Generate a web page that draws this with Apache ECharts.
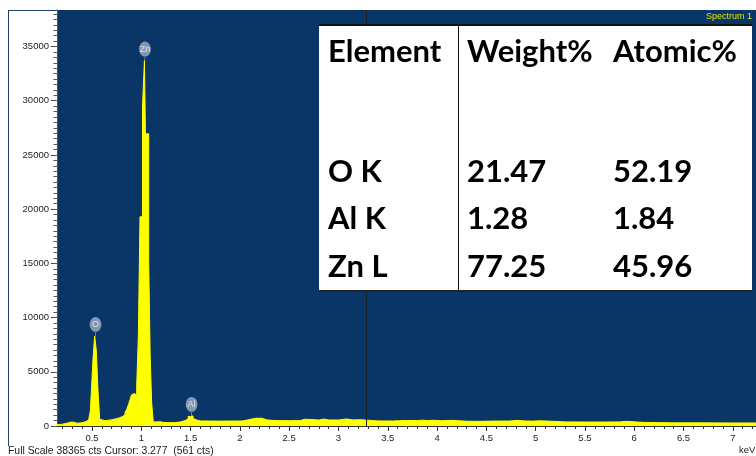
<!DOCTYPE html>
<html>
<head>
<meta charset="utf-8">
<script src="https://cdn.jsdelivr.net/npm/echarts@6/dist/echarts.min.js"></script>
<style>
  html, body { margin: 0; padding: 0; background: #ffffff; }
  #chart { width: 756px; height: 456px; }
</style>
</head>
<body>
<div id="chart"></div>
<script>
// EDS spectrum: channel left edges (keV) and counts per channel
const energyKeV = [
  0.14, 0.17, 0.20, 0.23, 0.26, 0.29, 0.32, 0.35, 0.38, 0.41, 0.44, 0.466,
  0.483, 0.493, 0.510, 0.527, 0.544, 0.561, 0.578, 0.595, 0.63, 0.66, 0.69,
  0.72, 0.75, 0.78, 0.81, 0.835, 0.853, 0.87, 0.887, 0.90, 0.915, 0.93,
  0.953, 0.970, 0.987, 1.012, 1.032, 1.042, 1.075, 1.090, 1.105, 1.122,
  1.16, 1.19, 1.23, 1.27, 1.31, 1.35, 1.39, 1.42, 1.45, 1.475, 1.50, 1.525,
  1.54, 1.56, 1.60, 1.70, 1.80, 1.90, 2.00, 2.03, 2.10, 2.16, 2.22, 2.28,
  2.33, 2.40, 2.50, 2.61, 2.66, 2.71, 2.80, 2.85, 2.90, 3.00, 3.08, 3.15,
  3.22, 3.29, 3.40, 3.55, 3.62, 3.70, 3.80, 3.85, 3.90, 3.96, 4.05, 4.16,
  4.30, 4.43, 4.55, 4.74, 4.81, 4.90, 4.98, 5.04, 5.11, 5.30, 5.50, 5.70,
  5.85, 5.92, 6.10, 6.40, 6.70, 7.00, 7.30
];
const counts = [
  130, 170, 230, 290, 370, 340, 260, 280, 330, 420, 560, 720,
  1390, 3080, 6170, 8300, 6950, 3240, 620, 500, 520, 560, 620,
  680, 760, 880, 1050, 1250, 1550, 2000, 2450, 2870, 2990, 2870,
  3550, 8200, 19300, 29400, 33700, 26950, 15200, 6480, 2160, 380,
  390, 330, 310, 310, 320, 360, 430, 530, 650, 880, 930, 700,
  560, 470, 460, 450, 460, 460, 470, 600, 710, 720, 560, 520,
  500, 490, 500, 620, 610, 550, 640, 560, 550, 650, 560, 580,
  540, 470, 460, 490, 510, 500, 540, 500, 530, 490, 520, 440,
  430, 450, 460, 520, 460, 450, 480, 460, 380, 370, 370, 380,
  430, 330, 290, 290, 280, 280, 280
];

// Identified peaks
const peakNames  = ['O', 'Zn', 'Al'];
const peakEnergy = [0.536, 1.037, 1.51];
const peakCounts = [8300, 33700, 930];

// Cursor readout
const cursorKeV = 3.277;
const cursorCounts = 561;
const fullScale = 38365;

// Axis ticks
const xTickLabels = [0.5, 1, 1.5, 2, 2.5, 3, 3.5, 4, 4.5, 5, 5.5, 6, 6.5, 7];
const yTickLabels = [0, 5000, 10000, 15000, 20000, 25000, 30000, 35000];
const xMin = 0.145, xMax = 7.235;

// Quantification table
const tableHeader = ['Element', 'Weight%', 'Atomic%'];
const elements = ['O K', 'Al K', 'Zn L'];
const weightPct = ['21.47', '1.28', '77.25'];
const atomicPct = ['52.19', '1.84', '45.96'];

// minor tick positions (0.1 keV and 500 cts)
const xMinor = [];
for (let i = 2; i <= 72; i++) xMinor.push(Math.round(i * 10) / 100);
const yMinor = [];
for (let v = 0; v <= 38000; v += 500) yMinor.push(v);

const axisFont = { fontFamily: 'Liberation Sans, Arial, sans-serif', fontSize: 9.5, color: '#222' };
const tableFont = 'Lato, "Open Sans", sans-serif';

const chart = echarts.init(document.getElementById('chart'), null, { renderer: 'canvas' });

const tableCols = [328, 467, 613];
const rowY = [172, 219, 267];
const tableGraphics = [
  { type: 'rect', shape: { x: 319, y: 24, width: 433, height: 267 }, style: { fill: '#ffffff' }, z: 100 },
  { type: 'line', shape: { x1: 319, y1: 25, x2: 752, y2: 25 }, style: { stroke: '#111', lineWidth: 2 }, z: 101 },
  { type: 'line', shape: { x1: 319, y1: 291, x2: 752, y2: 291 }, style: { stroke: '#222', lineWidth: 2 }, z: 101 },
  { type: 'line', shape: { x1: 458.5, y1: 25, x2: 458.5, y2: 291 }, style: { stroke: '#111', lineWidth: 1 }, z: 101 }
];
tableHeader.forEach((t, i) => {
  tableGraphics.push({ type: 'text', x: tableCols[i], y: 52, z: 102,
    style: { text: t, font: 'bold 31px ' + tableFont, fill: '#000', textVerticalAlign: 'middle' } });
});
elements.forEach((el, r) => {
  [el, weightPct[r], atomicPct[r]].forEach((t, c) => {
    tableGraphics.push({ type: 'text', x: tableCols[c], y: rowY[r], z: 102,
      style: { text: t, font: 'bold 31px ' + tableFont, fill: '#000', textVerticalAlign: 'middle' } });
  });
});

const plainNumber = v => String(v);

const option = {
  animation: false,
  backgroundColor: '#ffffff',
  grid: {
    left: 57, right: 0, top: 10, bottom: 30,
    show: true, backgroundColor: '#093567', borderWidth: 0
  },
  xAxis: [
    {
      type: 'value', min: xMin, max: xMax, position: 'bottom',
      axisLine: { show: true, onZero: false, lineStyle: { color: '#333', width: 1 } },
      axisTick: { show: true, length: 5, customValues: xTickLabels, lineStyle: { color: '#333' } },
      axisLabel: Object.assign({ customValues: xTickLabels, margin: 7, formatter: plainNumber }, axisFont),
      splitLine: { show: false }
    },
    {
      type: 'value', min: xMin, max: xMax, position: 'bottom',
      axisLine: { show: false, onZero: false },
      axisTick: { show: true, length: 3, customValues: xMinor, lineStyle: { color: '#333' } },
      axisLabel: { show: false },
      splitLine: { show: false }
    }
  ],
  yAxis: [
    {
      type: 'value', min: 0, max: fullScale,
      axisLine: { show: true, lineStyle: { color: '#555', width: 1 } },
      axisTick: { show: true, length: 6, customValues: yTickLabels, lineStyle: { color: '#444' } },
      axisLabel: Object.assign({ customValues: yTickLabels, margin: 8, formatter: plainNumber }, axisFont),
      splitLine: { show: false }
    },
    {
      type: 'value', min: 0, max: fullScale, position: 'left',
      axisLine: { show: false },
      axisTick: { show: true, length: 3.5, customValues: yMinor, lineStyle: { color: '#555' } },
      axisLabel: { show: false },
      splitLine: { show: false }
    }
  ],
  series: [
    {
      type: 'line',
      step: 'end',
      symbol: 'none',
      data: energyKeV.map((e, i) => [e, counts[i]]),
      lineStyle: { color: '#ffff00', width: 1 },
      areaStyle: { color: '#ffff00', opacity: 1 },
      markLine: {
        silent: true,
        symbol: 'none',
        label: { show: false },
        lineStyle: { color: '#1b1f2a', width: 1, type: 'solid' },
        data: [{ xAxis: cursorKeV }]
      },
      z: 2
    },
    {
      type: 'scatter',
      data: peakNames.map((n, i) => ({ name: n, value: [peakEnergy[i], peakCounts[i]] })),
      symbol: 'path://M0,7.5a7.5,7.5 0 1,0 15,0a7.5,7.5 0 1,0 -15,0zM7,14.5h1v4.5h-1z',
      symbolSize: [15, 19],
      symbolOffset: [0, -9.5],
      symbolKeepAspect: true,
      itemStyle: { color: 'rgba(176,186,204,0.92)' },
      label: {
        show: true, position: 'inside', offset: [0, -2],
        formatter: p => p.name,
        color: '#f2f4f8', fontSize: 9, fontFamily: 'Liberation Sans, Arial, sans-serif'
      },
      z: 5
    }
  ],
  graphic: [
    // outer frame edges
    { type: 'line', shape: { x1: 8.5, y1: 10, x2: 8.5, y2: 446 }, style: { stroke: '#23406e', lineWidth: 1 }, z: 50 },
    { type: 'line', shape: { x1: 8, y1: 10.5, x2: 57, y2: 10.5 }, style: { stroke: '#23406e', lineWidth: 1 }, z: 50 },
    { type: 'text', x: 752, y: 17, z: 60,
      style: { text: 'Spectrum 1', font: '9px "Liberation Sans", Arial, sans-serif', fill: '#e4e400', textAlign: 'right', textVerticalAlign: 'middle' } },
    { type: 'text', x: 8, y: 451, z: 60,
      style: { text: 'Full Scale ' + fullScale + ' cts Cursor: ' + cursorKeV.toFixed(3) + '  (' + cursorCounts + ' cts)',
        font: '10.4px "Liberation Sans", Arial, sans-serif', fill: '#1a1a1a', textVerticalAlign: 'middle' } },
    { type: 'text', x: 739, y: 450, z: 60,
      style: { text: 'keV', font: '9.5px "Liberation Sans", Arial, sans-serif', fill: '#222', textVerticalAlign: 'middle' } }
  ].concat(tableGraphics)
};

chart.setOption(option);
</script>
</body>
</html>
